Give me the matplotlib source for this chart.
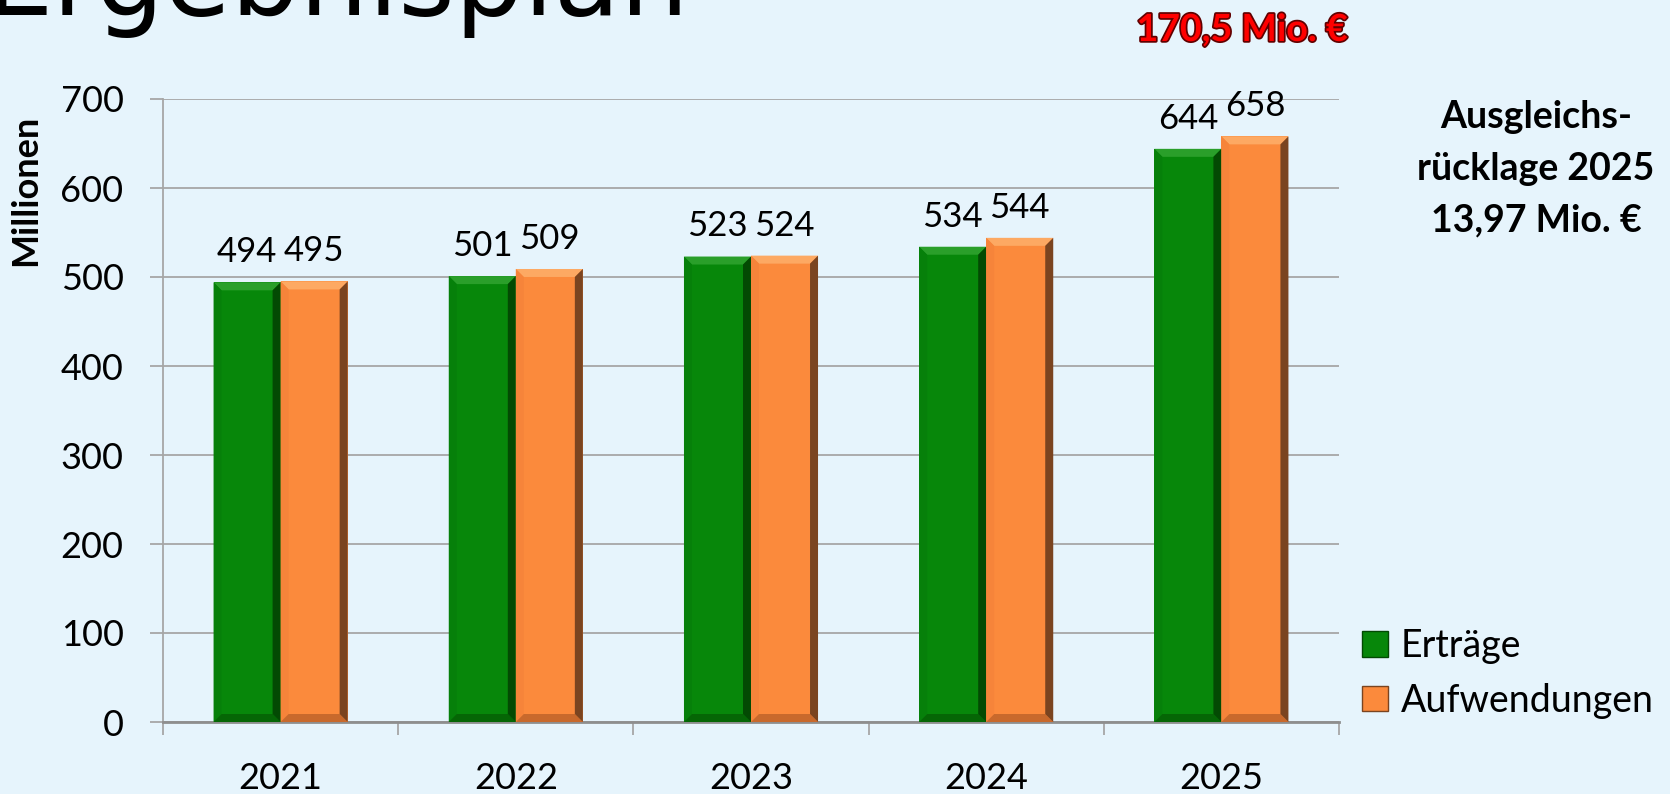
import numpy as np
import matplotlib.pyplot as plt
from matplotlib.patches import Patch, Polygon
import matplotlib.patheffects as pe

# data
years = ["2021", "2022", "2023", "2024", "2025"]
ertraege = [494, 501, 523, 534, 644]
aufwendungen = [495, 509, 524, 544, 658]

bg = "#E6F4FC"
green = "#07870A"
orange = "#FB8A3C"
# bevel shades: top, left, bottom, right
green_bevel = ["#2A9F2A", "#06800A", "#056605", "#034A03"]
orange_bevel = ["#FDA963", "#F6843A", "#C8692C", "#7A4420"]

plt.rcParams["font.family"] = ["Lato", "DejaVu Sans"]

fig = plt.figure(figsize=(16.7, 7.94), dpi=100, facecolor=bg)
ax = fig.add_axes([163 / 1670, 1 - 722 / 794, 1176 / 1670, 623 / 794])
ax.set_facecolor(bg)

x = np.arange(len(years))
w = 0.285
b1 = ax.bar(x - w / 2, ertraege, w, color=green, zorder=3)
b2 = ax.bar(x + w / 2, aufwendungen, w, color=orange, zorder=3)

ax.set_xlim(-0.5, len(years) - 0.5)
ax.set_ylim(0, 700)
ax.set_yticks(range(0, 701, 100))
ax.set_xticks(x)
ax.set_xticklabels(years)
ax.set_xticks(np.arange(-0.5, len(years)), minor=True)

grid_c = "#A6A6A6"
ax.grid(axis="y", color=grid_c, lw=1.3, zorder=0)
for s in ["top", "right"]:
    ax.spines[s].set_visible(False)
ax.spines["left"].set_color(grid_c)
ax.spines["left"].set_linewidth(1.3)
ax.spines["bottom"].set_color("#8E8E8E")
ax.spines["bottom"].set_linewidth(2)
ax.tick_params(axis="y", length=9.4, width=1.3, color=grid_c, pad=19, labelsize=26)
ax.tick_params(axis="x", which="major", length=0, pad=29, labelsize=26)
ax.tick_params(axis="x", which="minor", length=9.4, width=1.3, color=grid_c)

ax.set_ylabel("Millionen", fontsize=26, fontweight="bold")
ax.yaxis.set_label_coords(-0.103, 0.854)

# bevel look on the bars, built from each bar's own extent
fig.canvas.draw()
inv = ax.transData.inverted()
bev = 8
for bars, shades in [(b1, green_bevel), (b2, orange_bevel)]:
    for r in bars:
        (x0, y0), (x1, y1) = ax.transData.transform(
            [(r.get_x(), 0), (r.get_x() + r.get_width(), r.get_height())])
        quads = [
            [(x0, y1), (x1, y1), (x1 - bev, y1 - bev), (x0 + bev, y1 - bev)],
            [(x0, y0), (x0 + bev, y0 + bev), (x0 + bev, y1 - bev), (x0, y1)],
            [(x0, y0), (x1, y0), (x1 - bev, y0 + bev), (x0 + bev, y0 + bev)],
            [(x1, y0), (x1, y1), (x1 - bev, y1 - bev), (x1 - bev, y0 + bev)],
        ]
        for q, c in zip(quads, shades):
            ax.add_patch(Polygon(inv.transform(q), closed=True, color=c,
                                 lw=0, zorder=4))
        ax.annotate(f"{r.get_height():.0f}",
                    (r.get_x() + r.get_width() / 2, r.get_height()),
                    xytext=(0, 14.5), textcoords="offset points",
                    ha="center", va="baseline", fontsize=25)

ax.legend(handles=[Patch(facecolor=green, edgecolor=green_bevel[3], label="Erträge"),
                   Patch(facecolor=orange, edgecolor=orange_bevel[3], label="Aufwendungen")],
          loc="upper left", bbox_to_anchor=(1362 / 1670, 1 - 628 / 794),
          bbox_transform=fig.transFigure, frameon=False, fontsize=27,
          handlelength=0.68, handleheight=0.68, handletextpad=0.35,
          labelspacing=0.5, borderpad=0, borderaxespad=0)

# slide title, cut off at the top edge
fig.text(689 / 1670, 1 - 15 / 794, "Ergebnisplan", ha="right", va="baseline",
         fontsize=78, family="DejaVu Sans")

fig.text(1242 / 1670, 1 - 41 / 794, "170,5 Mio. €", ha="center", va="baseline",
         fontsize=27, fontweight="bold", color="#FF0000",
         path_effects=[pe.withStroke(linewidth=2.5, foreground="#600000")])

fig.text(1536 / 1670, 1 - 100 / 794, "Ausgleichs-\nrücklage 2025\n13,97 Mio. €",
         ha="center", va="top", fontsize=27, fontweight="bold",
         linespacing=1.63)

fig.savefig("out.png", dpi=100, facecolor=bg)
